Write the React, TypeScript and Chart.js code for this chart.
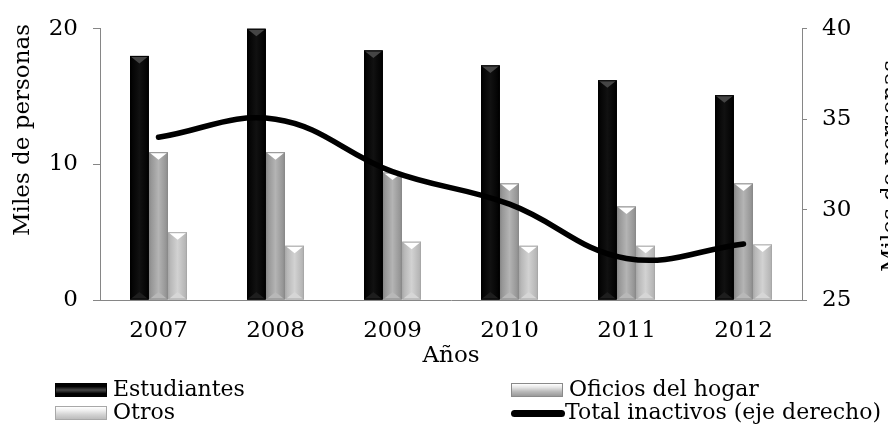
import React, { useEffect, useRef } from "react";
import { Chart, registerables } from "chart.js";

Chart.register(...registerables);

const years = ["2007", "2008", "2009", "2010", "2011", "2012"];
const estudiantes = [18.0, 20.0, 18.4, 17.3, 16.2, 15.1];
const oficiosHogar = [10.9, 10.9, 9.4, 8.6, 6.9, 8.6];
const otros = [5.0, 4.0, 4.3, 4.0, 4.0, 4.1];
const totalInactivos = [34.0, 35.0, 32.1, 30.3, 27.3, 28.1];

const leftTicks = [0, 10, 20];
const rightTicks = [25, 30, 35, 40];

const seriesNames = ["Estudiantes", "Oficios del hogar", "Otros", "Total inactivos (eje derecho)"];
const leftTitle = "Miles de personas";
const rightTitle = "Miles de personas";
const xTitle = "Años";

const FONT = '"DejaVu Serif", serif';
const AXIS = "#868686";

const bevelStyles = [
  { base: "#000000", edge: "#000000", mid: "#111111", top: "#454545", bottom: "#1e1e1e", border: "#000000" },
  { base: "#a6a6a6", edge: "#8e8e8e", mid: "#b4b4b4", top: "#ffffff", bottom: "#b8b8b8", border: "#8a8a8a" },
  { base: "#c8c8c8", edge: "#b0b0b0", mid: "#d2d2d2", top: "#ffffff", bottom: "#d6d6d6", border: "#a8a8a8" },
];

const bevelPlugin = {
  id: "bevel",
  afterDatasetDraw(chart: any, args: any) {
    const meta = args.meta;
    if (meta.type !== "bar") return;
    const ds: any = chart.data.datasets[args.index];
    const st = bevelStyles[ds.styleIndex];
    if (!st) return;
    const ctx = chart.ctx;
    ctx.save();
    meta.data.forEach((bar: any) => {
      const { x, y, base, width } = bar.getProps(["x", "y", "base", "width"], true);
      const l = x - width / 2;
      const r = x + width / 2;
      const t = Math.min(y, base);
      const b = Math.max(y, base);
      const g = ctx.createLinearGradient(l, 0, r, 0);
      g.addColorStop(0, st.edge);
      g.addColorStop(0.5, st.mid);
      g.addColorStop(1, st.edge);
      ctx.fillStyle = g;
      ctx.fillRect(l, t, width, b - t);
      const d = width * 0.4;
      ctx.beginPath();
      ctx.moveTo(l, t);
      ctx.lineTo(r, t);
      ctx.lineTo(x, t + d);
      ctx.closePath();
      ctx.fillStyle = st.top;
      ctx.fill();
      ctx.beginPath();
      ctx.moveTo(l, b);
      ctx.lineTo(r, b);
      ctx.lineTo(x, b - d);
      ctx.closePath();
      ctx.fillStyle = st.bottom;
      ctx.fill();
      ctx.strokeStyle = st.border;
      ctx.lineWidth = 1;
      ctx.strokeRect(l + 0.5, t + 0.5, width - 1, b - t - 1);
    });
    ctx.restore();
  },
};

const titlesPlugin = {
  id: "titles",
  afterDraw(chart: any) {
    const ctx = chart.ctx;
    const ca = chart.chartArea;
    ctx.save();
    ctx.fillStyle = "#000";
    ctx.font = `23px ${FONT}`;
    ctx.textAlign = "center";
    ctx.textBaseline = "middle";
    ctx.save();
    ctx.translate(ca.left - 77, 130);
    ctx.rotate(-Math.PI / 2);
    ctx.fillText(leftTitle, 0, 0);
    ctx.restore();
    ctx.save();
    ctx.translate(ca.right + 89, 166);
    ctx.rotate(-Math.PI / 2);
    ctx.fillText(rightTitle, 0, 0);
    ctx.restore();
    ctx.fillText(xTitle, (ca.left + ca.right) / 2, ca.bottom + 56);
    ctx.restore();
  },
};

function LegendIcon({ kind }: { kind: number }) {
  const common: React.CSSProperties = { position: "absolute", boxSizing: "border-box" };
  if (kind === 3) {
    return <div style={{ ...common, width: 54, height: 7, top: 3.5, background: "#000", borderRadius: 4 }} />;
  }
  const bgs = [
    "linear-gradient(to bottom, #000 0%, #000 20%, #3c3c3c 45%, #3c3c3c 55%, #000 80%, #000 100%)",
    "linear-gradient(to bottom, #ffffff 0%, #e4e4e4 30%, #b8b8b8 65%, #9a9a9a 100%)",
    "linear-gradient(to bottom, #ffffff 0%, #eeeeee 30%, #d2d2d2 65%, #bcbcbc 100%)",
  ];
  const borders = ["#000", "#8a8a8a", "#a8a8a8"];
  return (
    <div
      style={{
        ...common,
        width: 52,
        height: 14,
        top: 0,
        background: bgs[kind],
        border: `1px solid ${borders[kind]}`,
      }}
    />
  );
}

function LegendItem({ kind, left, top }: { kind: number; left: number; top: number }) {
  return (
    <div style={{ position: "absolute", left, top, height: 14 }}>
      <LegendIcon kind={kind} />
      <div
        style={{
          position: "absolute",
          left: kind === 3 ? 54 : 58,
          top: -7,
          font: `22px ${FONT}`,
          lineHeight: "26px",
          whiteSpace: "nowrap",
          color: "#000",
        }}
      >
        {seriesNames[kind]}
      </div>
    </div>
  );
}

export default function App() {
  const canvasRef = useRef<HTMLCanvasElement | null>(null);

  useEffect(() => {
    const canvas = canvasRef.current;
    if (!canvas) return;
    const chart = new Chart(canvas, {
      type: "bar",
      data: {
        labels: years,
        datasets: [
          {
            type: "line",
            label: seriesNames[3],
            data: totalInactivos,
            yAxisID: "y1",
            borderColor: "#000",
            borderWidth: 5.5,
            borderCapStyle: "round",
            borderJoinStyle: "round",
            pointRadius: 0,
            pointHoverRadius: 0,
            tension: 0.4,
            fill: false,
            order: 0,
          } as any,
          {
            label: seriesNames[0],
            data: estudiantes,
            backgroundColor: bevelStyles[0].base,
            yAxisID: "y",
            order: 1,
            styleIndex: 0,
          } as any,
          {
            label: seriesNames[1],
            data: oficiosHogar,
            backgroundColor: bevelStyles[1].base,
            yAxisID: "y",
            order: 1,
            styleIndex: 1,
          } as any,
          {
            label: seriesNames[2],
            data: otros,
            backgroundColor: bevelStyles[2].base,
            yAxisID: "y",
            order: 1,
            styleIndex: 2,
          } as any,
        ],
      },
      options: {
        responsive: false,
        animation: false,
        devicePixelRatio: 1,
        layout: { padding: { top: 24, left: 0, right: 0, bottom: 0 } },
        datasets: {
          bar: { barPercentage: 0.98, categoryPercentage: 0.49 },
        },
        plugins: {
          legend: { display: false },
          tooltip: { enabled: false },
        },
        scales: {
          x: {
            grid: { display: false },
            border: { display: true, color: AXIS, width: 1 },
            ticks: { color: "#000", font: { family: FONT, size: 23 }, padding: 9, maxRotation: 0 },
            afterFit: (s: any) => {
              s.height = 130;
            },
          },
          y: {
            position: "left",
            min: 0,
            max: 20,
            afterBuildTicks: (s: any) => {
              s.ticks = leftTicks.map((v) => ({ value: v }));
            },
            grid: { drawOnChartArea: false, drawTicks: true, tickLength: 7, color: AXIS },
            border: { display: true, color: AXIS, width: 1 },
            ticks: { color: "#000", font: { family: FONT, size: 23 }, padding: 15 },
            afterFit: (s: any) => {
              s.width = 100;
            },
          },
          y1: {
            position: "right",
            min: 25,
            max: 40,
            afterBuildTicks: (s: any) => {
              s.ticks = rightTicks.map((v) => ({ value: v }));
            },
            grid: { drawOnChartArea: false, drawTicks: true, tickLength: 5, color: AXIS },
            border: { display: true, color: AXIS, width: 1 },
            ticks: { color: "#000", font: { family: FONT, size: 23 }, padding: 15 },
            afterFit: (s: any) => {
              s.width = 86;
            },
          },
        },
      } as any,
      plugins: [bevelPlugin, titlesPlugin],
    });
    return () => chart.destroy();
  }, []);

  return (
    <div style={{ position: "absolute", left: 0, top: 0, width: 888, height: 430, background: "#fff", overflow: "hidden" }}>
      <canvas ref={canvasRef} width={888} height={430} style={{ display: "block" }} />
      <LegendItem kind={0} left={55} top={383} />
      <LegendItem kind={1} left={511} top={383} />
      <LegendItem kind={2} left={55} top={406} />
      <LegendItem kind={3} left={511} top={406} />
    </div>
  );
}
